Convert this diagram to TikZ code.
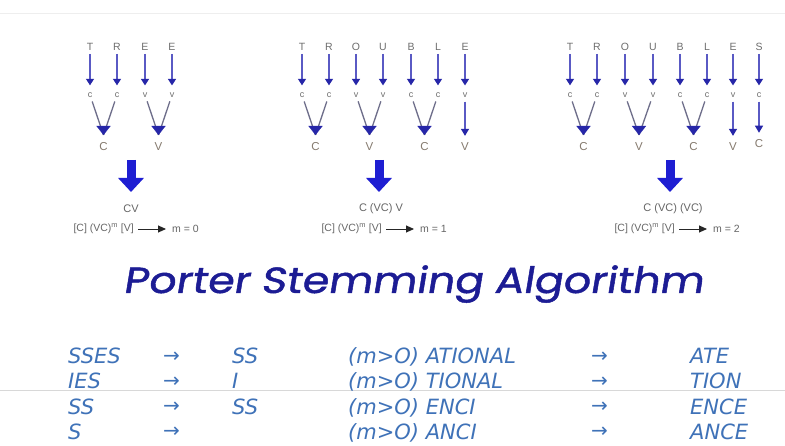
\documentclass[tikz,border=0pt]{standalone}
\usepackage{fontspec}
\setmainfont{Liberation Sans}
\newfontfamily\titlefont[FakeSlant=0.14,FakeBold=1.2]{Poppins}
\newfontfamily\rowfont{DejaVu Sans}
\newfontfamily\symfont{DejaVu Sans}
\usetikzlibrary{arrows.meta}
\definecolor{lettergrey}{HTML}{6E6E6E}
\definecolor{capgrey}{HTML}{857A6E}
\definecolor{arrowline}{HTML}{5A5AC4}
\definecolor{arrowhead}{HTML}{2626A8}
\definecolor{vgrey}{HTML}{6E6E8A}
\definecolor{bigblue}{HTML}{1E1ED2}
\definecolor{titleblue}{HTML}{1C1C94}
\definecolor{rowblue}{HTML}{3F72B8}
\definecolor{formgrey}{HTML}{666666}
\definecolor{scanline}{HTML}{D8D8D8}
\definecolor{topline}{HTML}{EEEEEE}
\begin{document}
\begin{tikzpicture}[x=1pt,y=-1pt,
  letter/.style={font=\fontsize{10.5}{10.5}\selectfont, text=lettergrey, inner sep=0pt},
  smallletter/.style={font=\fontsize{9}{9}\selectfont, text=lettergrey, inner sep=0pt},
  capletter/.style={font=\fontsize{11.5}{11.5}\selectfont, text=capgrey, inner sep=0pt},
  downarrow/.style={draw=arrowline, line width=1.2pt, shorten <=3pt, shorten >=7pt,
     -{Triangle[width=8pt,length=6.5pt,color=arrowhead]}},
  straightarrow/.style={draw=arrowline, line width=1.2pt, shorten <=4pt, shorten >=7pt,
     -{Triangle[width=8pt,length=7pt,color=arrowhead]}},
  vline/.style={draw=vgrey, line width=1.3pt, shorten <=4pt},
  apextip/.style={draw=arrowhead, line width=0.1pt, -{Triangle[width=14pt,length=9pt,color=arrowhead]}},
  bigarrow/.style={draw=bigblue, line width=9pt, -{Triangle[width=25pt,length=14pt,color=bigblue]}},
  result/.style={font=\fontsize{11}{11}\selectfont, text=formgrey, inner sep=0pt},
  formula/.style={font=\fontsize{10.5}{10.5}\selectfont, text=formgrey, inner sep=0pt},
  formarrow/.style={draw=black!85, line width=0.9pt, shorten <=4pt, shorten >=6pt,
     -{Triangle[width=7pt,length=8pt]}},
  title/.style={text=titleblue, inner sep=0pt},
  row/.style={font=\rowfont\itshape\fontsize{21}{21}\selectfont, text=rowblue, inner sep=0pt, anchor=base west},
  rowarrow/.style={font=\symfont\fontsize{20}{20}\selectfont, text=rowblue, inner sep=0pt, anchor=base west}
]
\useasboundingbox[fill=white] (0,0) rectangle (785,446);

% faint scan lines
\coordinate (tl1) at (0,13);
\coordinate (tl2) at (785,13);
\draw[topline, line width=0.8pt] (tl1) -- (tl2);

% ---------------- Panel 1: TREE ----------------
\foreach \i/\L/\s/\x in {1/T/c/90, 2/R/c/117, 3/E/v/145, 4/E/v/172} {
  \node[letter] (pa\i) at (\x,47) {\L};
  \node[smallletter] (pb\i) at (\x,95) {\s};
  \draw[downarrow] (pa\i) -- (pb\i);
}
\coordinate (pk1) at (103.5,135);
\coordinate (pt1) at (103.5,127);
\coordinate (pk2) at (158.5,135);
\coordinate (pt2) at (158.5,127);
\draw[vline] (pb1) -- (pk1);
\draw[vline] (pb2) -- (pk1);
\draw[vline] (pb3) -- (pk2);
\draw[vline] (pb4) -- (pk2);
\draw[apextip] (pt1) -- (pk1);
\draw[apextip] (pt2) -- (pk2);
\node[capletter] (pc1) at (103.5,147) {C};
\node[capletter] (pc2) at (158.5,147) {V};
\coordinate (pg1) at (131,160);
\coordinate (pg2) at (131,192);
\draw[bigarrow] (pg1) -- (pg2);
\node[result] (pr) at (131,209) {CV};
\node[formula, anchor=east] (pf) at (134,229) {[C] (VC)\textsuperscript{m} [V]};
\node[formula, anchor=west] (pm) at (172,229) {m = 0};
\draw[formarrow] (pf) -- (pm);

% ---------------- Panel 2: TROUBLE ----------------
\foreach \i/\L/\s/\x in {1/T/c/302, 2/R/c/329, 3/O/v/356, 4/U/v/383, 5/B/c/411, 6/L/c/438, 7/E/v/465} {
  \node[letter] (qa\i) at (\x,47) {\L};
  \node[smallletter] (qb\i) at (\x,95) {\s};
  \draw[downarrow] (qa\i) -- (qb\i);
}
\coordinate (qk1) at (315.5,135);
\coordinate (qt1) at (315.5,127);
\coordinate (qk2) at (369.5,135);
\coordinate (qt2) at (369.5,127);
\coordinate (qk3) at (424.5,135);
\coordinate (qt3) at (424.5,127);
\draw[vline] (qb1) -- (qk1);
\draw[vline] (qb2) -- (qk1);
\draw[vline] (qb3) -- (qk2);
\draw[vline] (qb4) -- (qk2);
\draw[vline] (qb5) -- (qk3);
\draw[vline] (qb6) -- (qk3);
\draw[apextip] (qt1) -- (qk1);
\draw[apextip] (qt2) -- (qk2);
\draw[apextip] (qt3) -- (qk3);
\node[capletter] (qc1) at (315.5,147) {C};
\node[capletter] (qc2) at (369.5,147) {V};
\node[capletter] (qc3) at (424.5,147) {C};
\node[capletter] (qc4) at (465,147) {V};
\draw[straightarrow] (qb7) -- (qc4);
\coordinate (qg1) at (379,160);
\coordinate (qg2) at (379,192);
\draw[bigarrow] (qg1) -- (qg2);
\node[result] (qr) at (381,209) {C (VC) V};
\node[formula, anchor=east] (qf) at (382,229) {[C] (VC)\textsuperscript{m} [V]};
\node[formula, anchor=west] (qm) at (420,229) {m = 1};
\draw[formarrow] (qf) -- (qm);

% ---------------- Panel 3: TROUBLES ----------------
\foreach \i/\L/\s/\x in {1/T/c/570, 2/R/c/597, 3/O/v/625, 4/U/v/653, 5/B/c/680, 6/L/c/707, 7/E/v/733, 8/S/c/759} {
  \node[letter] (sa\i) at (\x,47) {\L};
  \node[smallletter] (sb\i) at (\x,95) {\s};
  \draw[downarrow] (sa\i) -- (sb\i);
}
\coordinate (sk1) at (583.5,135);
\coordinate (st1) at (583.5,127);
\coordinate (sk2) at (639,135);
\coordinate (st2) at (639,127);
\coordinate (sk3) at (693.5,135);
\coordinate (st3) at (693.5,127);
\draw[vline] (sb1) -- (sk1);
\draw[vline] (sb2) -- (sk1);
\draw[vline] (sb3) -- (sk2);
\draw[vline] (sb4) -- (sk2);
\draw[vline] (sb5) -- (sk3);
\draw[vline] (sb6) -- (sk3);
\draw[apextip] (st1) -- (sk1);
\draw[apextip] (st2) -- (sk2);
\draw[apextip] (st3) -- (sk3);
\node[capletter] (sc1) at (583.5,147) {C};
\node[capletter] (sc2) at (639,147) {V};
\node[capletter] (sc3) at (693.5,147) {C};
\node[capletter] (sc4) at (733,147) {V};
\node[capletter] (sc5) at (759,144) {C};
\draw[straightarrow] (sb7) -- (sc4);
\draw[straightarrow] (sb8) -- (sc5);
\coordinate (sg1) at (670,160);
\coordinate (sg2) at (670,192);
\draw[bigarrow] (sg1) -- (sg2);
\node[result] (sr) at (673,209) {C (VC) (VC)};
\node[formula, anchor=east] (sf) at (675,229) {[C] (VC)\textsuperscript{m} [V]};
\node[formula, anchor=west] (sm) at (713,229) {m = 2};
\draw[formarrow] (sf) -- (sm);

% ---------------- Title ----------------
\node[title, anchor=base] (ttl) at (413,293) {\scalebox{1}[0.85]{\resizebox{580pt}{!}{\titlefont Porter Stemming Algorithm}}};

% ---------------- faint scan line ----------------
\coordinate (sl1) at (0,390);
\coordinate (sl2) at (785,390);
\draw[scanline, line width=0.8pt] (sl1) -- (sl2);

% ---------------- Rules table ----------------
\foreach \r/\y/\a/\b/\c/\d in {1/364/SSES/SS/ATIONAL/ATE, 2/389/IES/I/TIONAL/TION, 3/414/SS/SS/ENCI/ENCE, 4/439/S//ANCI/ANCE} {
  \node[row] (ra\r) at (68,\y) {\a};
  \node[rowarrow] (rb\r) at (163,\y-1) {→};
  \node[row] (rc\r) at (232,\y) {\b\strut};
  \node[row] (rd\r) at (348,\y) {(m>O) \c};
  \node[rowarrow] (re\r) at (591,\y-1) {→};
  \node[row] (rf\r) at (690,\y) {\d};
}
\end{tikzpicture}
\end{document}
